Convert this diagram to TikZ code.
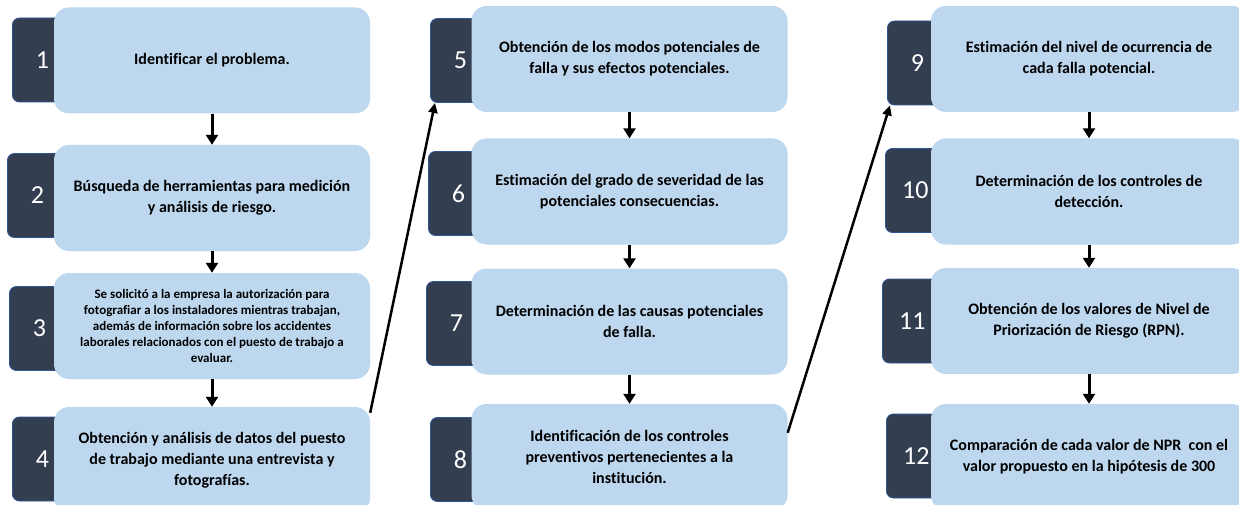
\documentclass[tikz,border=0pt]{standalone}
\usepackage{fontspec}
\setmainfont{Carlito}[Ligatures={TeX,NoCommon}]
\usetikzlibrary{positioning}
\usetikzlibrary{arrows.meta}
\definecolor{stepblue}{HTML}{BDD7EE}
\definecolor{tabdark}{HTML}{333F50}
\definecolor{tabedge}{HTML}{2F5597}
\tikzset{
        stepnode/.style={align=center,inner sep=0pt},
        % Light step boxes
        node_step/.style={stepnode, rectangle, rounded corners=15pt, fill=stepblue, minimum width=316pt, minimum height=106pt, font=\bfseries\fontsize{16}{21}\selectfont},
        % Small text step box
        node_step_small/.style={node_step, font=\bfseries\fontsize{13}{16}\selectfont},
        % Dark number tabs
        node_tab/.style={stepnode, rectangle, rounded corners=7pt, fill=tabdark, draw=tabedge, line width=0.8pt, text=white, minimum width=60pt, minimum height=84pt, anchor=west, font=\fontsize{26}{26}\selectfont},
        % Arrows inside a column
        link_down/.style={-{Triangle[width=12pt,length=10pt]}, line width=3pt},
        % Arrows between columns
        link_jump/.style={-{Triangle[width=9pt,length=10pt]}, line width=2.5pt}
}
\begin{document}
\begin{tikzpicture}[x=1pt, y=-1pt]
            \useasboundingbox (0,0) rectangle (1239,505);
            \clip (0,0) rectangle (1239,505);
            % number tabs
            \node[node_tab] (t1) at (12,60) {1};
            \node[node_tab] (t2) at (7,195.5) {2};
            \node[node_tab] (t3) at (9,328.5) {3};
            \node[node_tab] (t4) at (12,459) {4};
            \node[node_tab] (t5) at (430,60.5) {5};
            \node[node_tab] (t6) at (428,193.5) {6};
            \node[node_tab] (t7) at (426,323.5) {7};
            \node[node_tab] (t8) at (430,459.5) {8};
            \node[node_tab] (t9) at (887,63) {9};
            \node[node_tab] (t10) at (885,190.5) {10};
            \node[node_tab] (t11) at (882,321) {11};
            \node[node_tab] (t12) at (886,456) {12};
            % first column
            \node[node_step] (b1) at (212,60.5) {Identificar el problema.};
            \node[node_step] (b2) at (212,198) {Búsqueda de herramientas para medición\\ y análisis de riesgo.};
            \node[node_step_small] (b3) at (212,326) {Se solicitó a la empresa la autorización para\\ fotografiar a los instaladores mientras trabajan,\\ además de información sobre los accidentes\\ laborales relacionados con el puesto de trabajo a\\ evaluar.};
            \node[node_step] (b4) at (212,460) {Obtención y análisis de datos del puesto\\ de trabajo mediante una entrevista y\\ fotografías.};
            % second column
            \node[node_step] (b5) at (629.5,59) {Obtención de los modos potenciales de\\ falla y sus efectos potenciales.};
            \node[node_step] (b6) at (629.5,191.5) {Estimación del grado de severidad de las\\ potenciales consecuencias.};
            \node[node_step] (b7) at (629.5,321.5) {Determinación de las causas potenciales\\ de falla.};
            \node[node_step] (b8) at (629.5,457) {Identificación de los controles\\ preventivos pertenecientes a la\\ institución.};
            % third column
            \node[node_step] (b9) at (1089,59) {Estimación del nivel de ocurrencia de\\ cada falla potencial.};
            \node[node_step] (b10) at (1089,191.5) {Determinación de los controles de\\ detección.};
            \node[node_step] (b11) at (1089,321) {Obtención de los valores de Nivel de\\ Priorización de Riesgo (RPN).};
            \node[node_step] (b12) at (1089,457) {Comparación de cada valor de NPR\ \ con el\\ valor propuesto en la hipótesis de 300};
            % arrows
            \draw[link_down] (b1) -- (b2);
            \draw[link_down] (b2) -- (b3);
            \draw[link_down] (b3) -- (b4);
            \draw[link_down] (b5) -- (b6);
            \draw[link_down] (b6) -- (b7);
            \draw[link_down] (b7) -- (b8);
            \draw[link_down] (b9) -- (b10);
            \draw[link_down] (b10) -- (b11);
            \draw[link_down] (b11) -- (b12);
            \draw[link_jump] ([yshift=-6pt]b4.north east) -- ([xshift=5pt]t5.south west);
            \draw[link_jump] ([yshift=-29pt]b8.north east) -- ([xshift=3pt]t9.south west);
        \end{tikzpicture}
\end{document}
